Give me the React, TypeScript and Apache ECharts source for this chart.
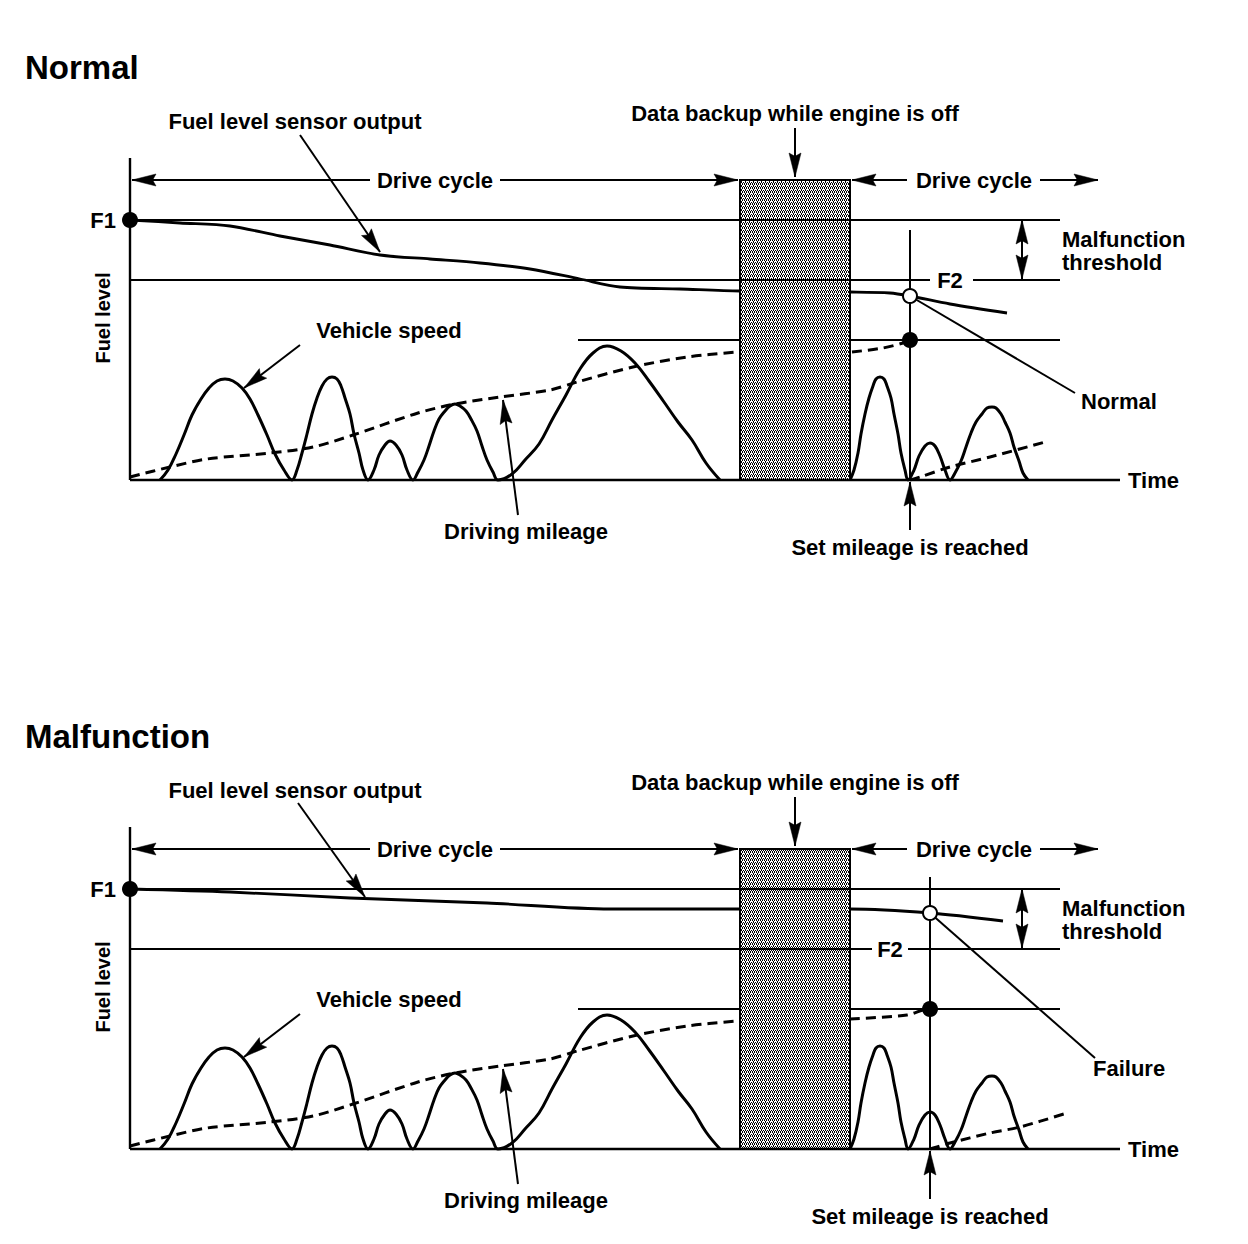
import React, { useEffect, useRef } from "react";
import * as echarts from "echarts";

const FONT = '"Liberation Sans", Arial, Helvetica, sans-serif';

// ---- data (x = time units, y = level units; baseline y = 0) ----
const speedBeforeBackup = [
  [30, 0], [38, 10], [46, 26], [54, 45], [62, 65], [71, 81], [79, 92], [87, 99], [95, 101],
  [103, 99], [112, 92], [120, 81], [128, 65], [137, 45], [145, 26], [154, 10], [162, 0],
  [167, 10], [172, 27], [177, 46], [182, 66], [187, 82], [192, 94], [197, 101], [202, 103],
  [207, 101], [211, 94], [215, 82], [220, 66], [224, 46], [229, 27], [233, 10], [238, 0],
  [244, 10], [249, 25], [255, 35], [260, 39], [266, 35], [272, 25], [277, 10], [283, 0],
  [288, 8], [294, 20], [299, 34], [304, 49], [309, 61], [315, 69], [320, 74], [325, 76],
  [330, 74], [336, 69], [341, 61], [347, 49], [352, 34], [357, 20], [363, 8], [368, 0],
  [382, 6], [395, 20], [409, 36], [422, 60], [436, 85], [450, 111], [463, 127], [477, 134],
  [491, 129], [505, 117], [519, 99], [534, 78], [548, 58], [562, 40], [576, 17], [590, 0],
];
const speedAfterBackup = [
  [720, 0], [724, 10], [728, 27], [731, 46], [735, 66], [739, 82], [743, 94], [746, 101], [750, 103],
  [754, 101], [757, 94], [761, 82], [764, 66], [768, 46], [771, 27], [775, 10], [778, 0],
  [784, 10], [789, 24], [795, 34], [800, 37], [805, 34], [810, 24], [815, 10], [820, 0],
  [825, 7], [831, 19], [836, 33], [841, 47], [846, 58], [852, 66], [857, 72], [862, 73],
  [866, 72], [871, 66], [875, 58], [880, 47], [884, 33], [889, 19], [893, 7], [898, 0],
];

const normalFuelLevel = [
  [0, 260], [50, 257], [100, 254], [150, 244], [200, 235], [250, 225], [300, 221], [350, 217],
  [400, 211], [450, 201], [490, 193], [550, 191], [610, 189], [720, 188], [760, 187], [780, 184],
  [820, 176], [877, 167],
];
const malfunctionFuelLevel = [
  [0, 260], [100, 257], [220, 251], [357, 246], [480, 240], [610, 240], [720, 240], [800, 236], [873, 228],
];

const mileageBeforeBackup = [
  [0, 3], [40, 13], [77, 21], [140, 27], [183, 33], [223, 45], [288, 67], [325, 76], [370, 83],
  [420, 90], [447, 98], [503, 113], [557, 123], [608, 128],
];
const normalMileageToSet = [[722, 128], [753, 132], [773, 137], [780, 140]];
const normalMileageAfterSet = [[780, 0], [790, 3], [820, 13], [860, 23], [915, 38]];
const malfunctionMileageToSet = [[720, 130], [777, 134], [793, 139], [800, 140]];
const malfunctionMileageAfterSet = [[800, 0], [807, 2], [820, 6], [860, 16], [890, 22], [937, 36]];

const f1Level = 260;
const f2Level = 200;
const setMileageLevel = 140;
const timeEnd = 990;
const levelAxisTop = 322;
const refLineEnd = 930;
const normalSetX = 780;
const malfunctionSetX = 800;
const normalF2Gap = [800, 843];
const malfunctionF2Gap = [742, 778];
const normalSetLineTop = 250;
const malfunctionSetLineTop = 272;
const normalSensorAtSet = 184;
const malfunctionSensorAtSet = 236;
const backupBox = [[610, 0, 720, 300]];

// arrows: [x1, y1, x2, y2, headAtStart, headAtEnd]
const commonArrows = [
  [240, 300, 2, 300, 0, 1],
  [370, 300, 608, 300, 0, 1],
  [777, 300, 722, 300, 0, 1],
  [910, 300, 968, 300, 0, 1],
  [665, 352, 665, 303, 0, 1],
  [170, 135, 114, 92, 0, 1],
  [388, -35, 373, 80, 0, 1],
  [892, 260, 892, 201, 1, 1],
];
const normalArrows = [
  [170, 345, 250, 228, 0, 1],
  [780, -50, 780, -2, 0, 1],
  [780, 184, 945, 87, 0, 0],
];
const malfunctionArrows = [
  [168, 346, 235, 252, 0, 1],
  [800, -50, 800, -2, 0, 1],
  [800, 236, 965, 91, 0, 0],
];

// ---- helpers ----
function line(p: number, data: number[][], opt: any = {}) {
  return {
    type: "line",
    xAxisIndex: p,
    yAxisIndex: p,
    data,
    symbol: "none",
    silent: true,
    smooth: opt.smooth ?? false,
    z: opt.z ?? 2,
    lineStyle: {
      color: "#000",
      width: opt.width ?? 2,
      type: opt.dash ? [10, 6] : "solid",
      cap: "butt",
      join: "round",
      opacity: 1,
    },
  };
}

function dots(p: number, data: number[][], open: boolean) {
  return {
    type: "scatter",
    xAxisIndex: p,
    yAxisIndex: p,
    data,
    silent: true,
    z: 8,
    symbol: "circle",
    symbolSize: open ? 14 : 16,
    itemStyle: open
      ? { color: "#fff", borderColor: "#000", borderWidth: 2, opacity: 1 }
      : { color: "#000", borderWidth: 0, opacity: 1 },
  };
}

function arrowHead(tip: number[], from: number[]) {
  const dx = tip[0] - from[0];
  const dy = tip[1] - from[1];
  const len = Math.hypot(dx, dy) || 1;
  const ux = dx / len;
  const uy = dy / len;
  const L = 24;
  const W = 6;
  const bx = tip[0] - ux * L;
  const by = tip[1] - uy * L;
  const nx = tip[0] - ux * L * 0.86;
  const ny = tip[1] - uy * L * 0.86;
  return {
    type: "polygon",
    shape: { points: [[tip[0], tip[1]], [bx - uy * W, by + ux * W], [nx, ny], [bx + uy * W, by - ux * W]] },
    style: { fill: "#000", stroke: "#000", lineWidth: 0.5 },
  };
}

function arrows(p: number, data: number[][]) {
  return {
    type: "custom",
    xAxisIndex: p,
    yAxisIndex: p,
    data,
    silent: true,
    clip: false,
    z: 7,
    renderItem: (_params: any, api: any) => {
      const a = api.coord([api.value(0), api.value(1)]);
      const b = api.coord([api.value(2), api.value(3)]);
      const children: any[] = [
        { type: "line", shape: { x1: a[0], y1: a[1], x2: b[0], y2: b[1] }, style: { stroke: "#000", lineWidth: 2 } },
      ];
      if (api.value(5)) children.push(arrowHead(b, a));
      if (api.value(4)) children.push(arrowHead(a, b));
      return { type: "group", children };
    },
  };
}

function makeDither(): any {
  try {
    const c = document.createElement("canvas");
    c.width = 4;
    c.height = 4;
    const ctx = c.getContext("2d");
    if (!ctx) return "#a8a8a8";
    ctx.fillStyle = "#ffffff";
    ctx.fillRect(0, 0, 4, 4);
    ctx.fillStyle = "#000000";
    const on = [
      [0, 0], [2, 0], [1, 1], [3, 2], [1, 2], [0, 3], [2, 3],
    ];
    on.forEach(([x, y]) => ctx.fillRect(x, y, 1, 1));
    return { image: c, repeat: "repeat" };
  } catch (e) {
    return "#a8a8a8";
  }
}

function box(p: number, fill: any) {
  return {
    type: "custom",
    xAxisIndex: p,
    yAxisIndex: p,
    data: backupBox,
    silent: true,
    z: 4,
    renderItem: (_params: any, api: any) => {
      const tl = api.coord([api.value(0), api.value(3)]);
      const br = api.coord([api.value(2), api.value(1)]);
      return {
        type: "rect",
        shape: { x: tl[0], y: tl[1], width: br[0] - tl[0], height: br[1] - tl[1] },
        style: { fill, stroke: "#000", lineWidth: 2 },
      };
    },
  };
}

function panelSeries(p: number, cfg: any, fill: any) {
  return [
    line(p, [[0, 0], [timeEnd, 0]], { z: 5, width: 2.4 }),
    line(p, [[0, 0], [0, levelAxisTop]], { z: 5, width: 2.4 }),
    line(p, [[0, f1Level], [refLineEnd, f1Level]], { z: 5 }),
    line(p, [[0, f2Level], [cfg.f2Gap[0], f2Level]], { z: 5 }),
    line(p, [[cfg.f2Gap[1], f2Level], [refLineEnd, f2Level]], { z: 5 }),
    line(p, [[448, setMileageLevel], [refLineEnd, setMileageLevel]], { z: 2 }),
    line(p, [[cfg.setX, 0], [cfg.setX, cfg.setTop]], { z: 2 }),
    line(p, cfg.fuel, { width: 2.8, smooth: 0.3, z: 3 }),
    line(p, speedBeforeBackup, { width: 3, smooth: 0.4, z: 3 }),
    line(p, speedAfterBackup, { width: 3, smooth: 0.4, z: 3 }),
    line(p, mileageBeforeBackup, { width: 3, dash: true, smooth: 0.3, z: 3 }),
    line(p, cfg.toSet, { width: 3, dash: true, smooth: 0.3, z: 3 }),
    line(p, cfg.afterSet, { width: 3, dash: true, smooth: 0.3, z: 3 }),
    box(p, fill),
    arrows(p, commonArrows.concat(cfg.arrows)),
    dots(p, [[0, f1Level]], false),
    dots(p, [[cfg.setX, setMileageLevel]], false),
    dots(p, [[cfg.setX, cfg.sensorAtSet]], true),
  ];
}

function txt(text: string, x: number, y: number, align = "center", size = 22, extra: any = {}) {
  return {
    type: "text",
    x,
    y,
    silent: true,
    z: 20,
    ...extra,
    style: {
      text,
      x: 0,
      y: 0,
      fill: "#000",
      font: `bold ${size}px ${FONT}`,
      align,
      verticalAlign: "middle",
      textAlign: align,
      textVerticalAlign: "middle",
    },
  };
}

function panelTexts(dy: number, title: string, f2x: number, note: string, noteX: number, noteY: number, setX: number) {
  return [
    txt(title, 25, 67 + dy, "left", 33),
    txt("Fuel level sensor output", 295, 121 + dy),
    txt("Data backup while engine is off", 795, 113 + dy),
    txt("Drive cycle", 435, 180 + dy),
    txt("Drive cycle", 974, 180 + dy),
    txt("F1", 116, 220 + dy, "right"),
    txt("Malfunction", 1062, 239 + dy, "left"),
    txt("threshold", 1062, 262 + dy, "left"),
    txt("F2", f2x, 280 + dy),
    txt("Fuel level", 103, 318 + dy, "center", 20, { rotation: Math.PI / 2 }),
    txt("Vehicle speed", 389, 330 + dy),
    txt(note, noteX, noteY + dy, "left"),
    txt("Time", 1128, 480 + dy, "left"),
    txt("Driving mileage", 526, 531 + dy),
    txt("Set mileage is reached", setX, 547 + dy),
  ];
}

export default function App() {
  const ref = useRef<HTMLDivElement>(null);
  useEffect(() => {
    const chart = echarts.init(ref.current as HTMLDivElement, null, { renderer: "svg" });
    const fill = makeDither();
    const axisX = (i: number) => ({ type: "value", gridIndex: i, min: -130, max: 1118, show: false });
    const axisY = (i: number) => ({ type: "value", gridIndex: i, min: -90, max: 390, show: false });
    chart.setOption({
      animation: false,
      backgroundColor: "#fff",
      grid: [
        { left: 0, top: 90, width: 1248, height: 480 },
        { left: 0, top: 759, width: 1248, height: 480 },
      ],
      xAxis: [axisX(0), axisX(1)],
      yAxis: [axisY(0), axisY(1)],
      series: [
        ...panelSeries(0, {
          fuel: normalFuelLevel,
          toSet: normalMileageToSet,
          afterSet: normalMileageAfterSet,
          setX: normalSetX,
          setTop: normalSetLineTop,
          sensorAtSet: normalSensorAtSet,
          f2Gap: normalF2Gap,
          arrows: normalArrows,
        }, fill),
        ...panelSeries(1, {
          fuel: malfunctionFuelLevel,
          toSet: malfunctionMileageToSet,
          afterSet: malfunctionMileageAfterSet,
          setX: malfunctionSetX,
          setTop: malfunctionSetLineTop,
          sensorAtSet: malfunctionSensorAtSet,
          f2Gap: malfunctionF2Gap,
          arrows: malfunctionArrows,
        }, fill),
      ],
      graphic: [
        ...panelTexts(0, "Normal", 950, "Normal", 1081, 401, 910),
        ...panelTexts(669, "Malfunction", 890, "Failure", 1093, 399, 930),
      ],
    });
    return () => chart.dispose();
  }, []);
  return (
    <div
      ref={ref}
      style={{ position: "absolute", left: 0, top: 0, width: 1248, height: 1244, background: "#fff" }}
    />
  );
}
